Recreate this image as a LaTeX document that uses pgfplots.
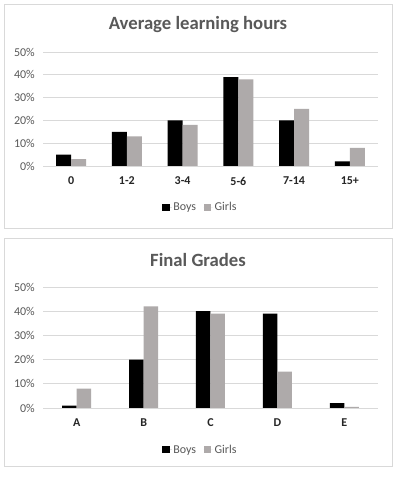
\documentclass[border=0pt]{standalone}
\usepackage{pgfplots}
\pgfplotsset{compat=1.18}
\usepackage{fontspec}
\setmainfont{Carlito}
\definecolor{txtgray}{HTML}{595959}
\definecolor{gridgray}{HTML}{D9D9D9}
\definecolor{girlgray}{HTML}{AEAAAA}
\definecolor{catblack}{HTML}{262626}
\pgfplotsset{
  mychart/.style={
    scale only axis,
    width=334.4bp,
    ymin=0, ymax=50,
    ytick={0,10,20,30,40,50},
    yticklabels={0\%,10\%,20\%,30\%,40\%,50\%},
    ymajorgrids,
    grid style={gridgray, line width=0.75bp},
    axis x line*=bottom,
    axis y line*=left,
    y axis line style={draw=none},
    x axis line style={gridgray, line width=0.75bp, -},
    major tick length=0pt,
    xtick=data,
    ybar=0pt,
    tick label style={font=\fontsize{12bp}{14bp}\selectfont},
    yticklabel style={text=txtgray, anchor=east, xshift=-5bp},
    xticklabel style={text=catblack, font=\fontsize{12bp}{14bp}\selectfont\bfseries, anchor=center, yshift=-15bp},
    legend columns=2,
    legend style={draw=none, fill=none, font=\fontsize{12bp}{14bp}\selectfont, text=txtgray,
      anchor=center, inner sep=0pt, nodes={inner sep=1.5bp},
      /tikz/every even column/.append style={column sep=6bp}},
    legend image code/.code={\path[##1,draw=none] (0bp,-3.5bp) rectangle (7.5bp,3.5bp);\path (0bp,0bp) -- (9.5bp,0bp);},
  }
}
\begin{document}
\begin{tikzpicture}
\path[use as bounding box, fill=white] (0,0) rectangle (396bp,477bp);
% frames
\draw[gridgray, line width=0.75bp] (4bp,477bp-4bp) rectangle (392bp,477bp-228bp);
\draw[gridgray, line width=0.75bp] (4bp,477bp-238.5bp) rectangle (392bp,477bp-466.5bp);
% titles
\node[text=txtgray, font=\fontsize{18.7bp}{22bp}\selectfont\bfseries] at (198bp,477bp-25bp) {Average learning hours};
\node[text=txtgray, font=\fontsize{18.7bp}{22bp}\selectfont\bfseries] at (198bp,477bp-260bp) {Final Grades};

\begin{axis}[mychart,
  at={(43.3bp,311bp)}, anchor=south west,
  height=114bp,
  xmin=-0.5, xmax=5.5,
  bar width=15bp,
  xticklabels={0,1-2,3-4,5-6,7-14,15+},
  legend style={at={(0.469,-0.36)}},
]
\addplot[fill=black, draw=none] coordinates {(0,5) (1,15) (2,20) (3,39) (4,20) (5,2)};
\addplot[fill=girlgray, draw=none] coordinates {(0,3) (1,13) (2,18) (3,38) (4,25) (5,8)};
\legend{Boys,Girls}
\end{axis}

\begin{axis}[mychart,
  at={(43.3bp,69bp)}, anchor=south west,
  height=121bp,
  xmin=-0.5, xmax=4.5,
  bar width=14.5bp,
  xticklabels={A,B,C,D,E},
  legend style={at={(0.469,-0.347)}},
]
\addplot[fill=black, draw=none] coordinates {(0,1) (1,20) (2,40) (3,39) (4,2)};
\addplot[fill=girlgray, draw=none] coordinates {(0,8) (1,42) (2,39) (3,15) (4,0.5)};
\legend{Boys,Girls}
\end{axis}
\end{tikzpicture}
\end{document}
